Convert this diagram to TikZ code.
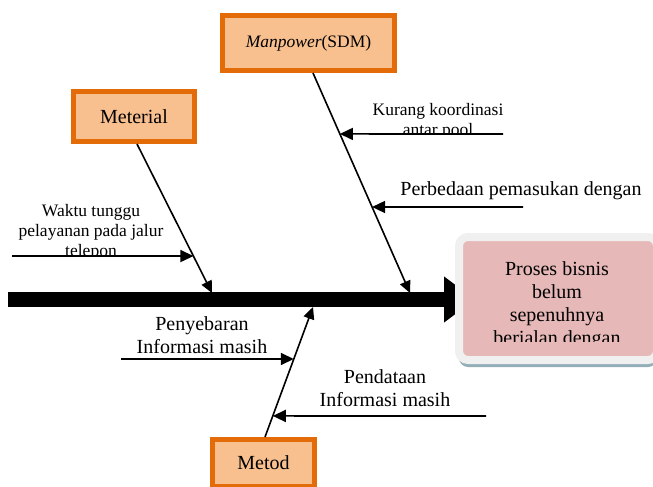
\documentclass[tikz,border=0pt]{standalone}
\usepackage{fontspec}
\setmainfont{Liberation Serif}
\usetikzlibrary{positioning,arrows.meta,calc,shadows}

\definecolor{oranye}{HTML}{E36C09}
\definecolor{oranyemuda}{HTML}{F9C08F}
\definecolor{merahmuda}{HTML}{E6B8B7}
\definecolor{abumuda}{HTML}{F0F0F0}
\definecolor{bayang}{HTML}{93AEB8}

\begin{document}
\begin{tikzpicture}[
  x=1pt, y=-1pt,
  every node/.style={align=center, inner sep=0pt},
  besar/.style  ={font=\fontsize{20}{23}\selectfont},
  kecil/.style  ={font=\fontsize{17.5}{20}\selectfont},
  kat/.style    ={rectangle, draw=oranye, line width=5pt, fill=oranyemuda},
  akibat/.style ={rectangle, rounded corners=9pt, draw=abumuda, line width=8pt,
                  fill=merahmuda,
                  drop shadow={shadow xshift=0pt, shadow yshift=-7pt, fill=bayang, opacity=1}},
  spine/.style  ={draw=black, line width=15pt, -{Triangle[length=31pt,width=44pt]}},
  tulang/.style ={draw=black, line width=1.6pt, -{Triangle[length=12pt,width=11pt]}},
  sebab/.style  ={draw=black, line width=1.6pt, -{Triangle[length=13pt,width=12pt]}},
]
\clip (0,0) rectangle (653,487);

% --- Tulang utama ---
\coordinate (ekor)   at (8,299.5);
\coordinate (kepala) at (475,299.5);
\draw[spine] (ekor) -- (kepala);

% --- Kategori ---
\node[kat, kecil, minimum width=172pt, minimum height=55pt] (sdm) at (308.5,43)
  {\textit{Manpower}(SDM)};
\node[kat, besar, minimum width=121pt, minimum height=50pt] (mat) at (134,116.5)
  {Meterial};
\node[kat, besar, minimum width=102pt, minimum height=47pt] (met) at (263.5,463)
  {Metod};

% --- Tulang kategori ---
\coordinate (pSDM) at ([xshift=4.5pt]sdm.south);
\coordinate (uSDM) at (410,293);
\coordinate (pMat) at ([xshift=3pt]mat.south);
\coordinate (uMat) at (212,293);
\coordinate (pMet) at ([xshift=1.5pt]met.north);
\coordinate (uMet) at (313,307);

\draw[tulang] (pSDM) -- (uSDM);
\draw[tulang] (pMat) -- (uMat);
\draw[tulang] (pMet) -- (uMet);

% --- Sebab (Manpower) ---
\begin{scope}
  \clip (360,95) rectangle (520,134);
  \node[kecil] (kurang) at (438,121) {Kurang koordinasi\\antar pool};
\end{scope}
\coordinate (kurangA) at (503,134);
\coordinate (kurangB) at ($(pSDM)!0.277!(uSDM)$);
\draw[sebab] (kurangA) -- (kurangB);

\node[besar] (beda) at (521,191) {Perbedaan pemasukan dengan};
\coordinate (bedaA) at (523,207);
\coordinate (bedaB) at ($(pSDM)!0.609!(uSDM)$);
\draw[sebab] (bedaA) -- (bedaB);

% --- Sebab (Meterial) ---
\begin{scope}
  \clip (0,195) rectangle (190,256);
  \node[kecil] (waktu) at (91,232) {Waktu tunggu\\pelayanan pada jalur\\telepon};
\end{scope}
\coordinate (waktuA) at (12,256);
\coordinate (waktuB) at ($(pMat)!0.752!(uMat)$);
\draw[sebab] (waktuA) -- (waktuB);

% --- Sebab (Metod) ---
\node[besar] (sebar) at (202,335) {Penyebaran\\Informasi masih};
\coordinate (sebarA) at (121,359);
\coordinate (sebarB) at ($(pMet)!0.6!(uMet)$);
\draw[sebab] (sebarA) -- (sebarB);

\node[besar] (data) at (385,388.5) {Pendataan\\Informasi masih};
\coordinate (dataA) at (486,416);
\coordinate (dataB) at ($(pMet)!0.162!(uMet)$);
\draw[sebab] (dataA) -- (dataB);

% --- Akibat ---
\node[akibat, minimum width=198pt, minimum height=123pt] (hasil) at (558,298.5) {};
\begin{scope}
  \clip (463,245) rectangle (653,341);
  \node[besar] (hasilteks) at (557,305.5)
    {Proses bisnis\\belum\\sepenuhnya\\berjalan dengan};
\end{scope}

\end{tikzpicture}
\end{document}
